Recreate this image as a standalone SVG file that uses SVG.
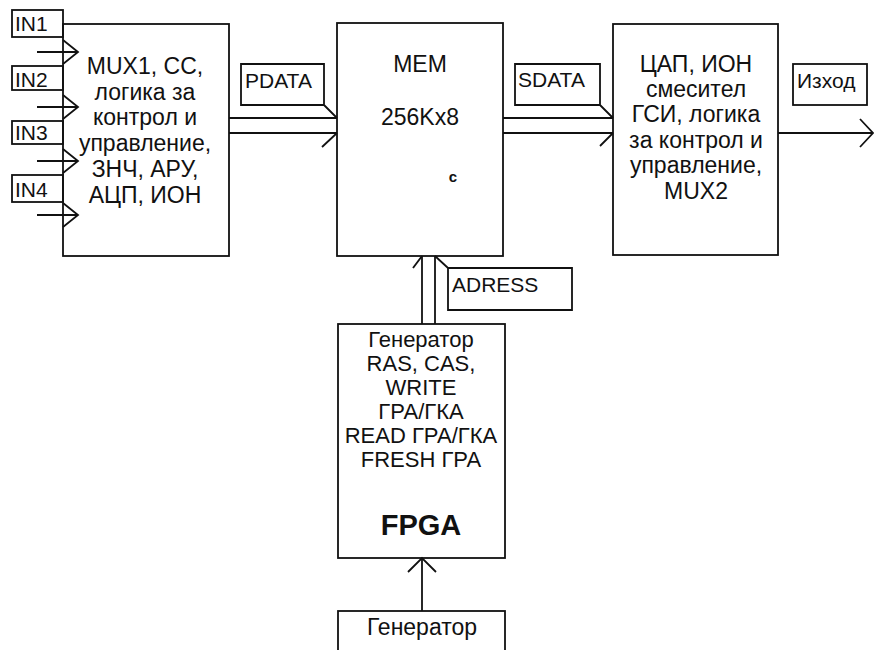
<svg xmlns="http://www.w3.org/2000/svg" width="874" height="650" viewBox="0 0 874 650">
<style>
.box{fill:none;stroke:#111;stroke-width:1.8}
.ln{fill:none;stroke:#111;stroke-width:1.8}
.t{font-family:"Liberation Sans",Arial,sans-serif;font-size:23px;fill:#111;text-anchor:middle}
.f{font-family:"Liberation Sans",Arial,sans-serif;font-size:22px;fill:#111;text-anchor:middle}
.l{font-family:"Liberation Sans",Arial,sans-serif;font-size:21px;fill:#111}
</style>
<rect width="874" height="650" fill="#fff"/>

<g id="connectors">
<line class="ln" x1="37" y1="52" x2="78" y2="52"/>
<polyline class="ln" points="63,40 78,52 63,64"/>
<line class="ln" x1="37" y1="107" x2="78" y2="107"/>
<polyline class="ln" points="63,95 78,107 63,119"/>
<line class="ln" x1="37" y1="161" x2="78" y2="161"/>
<polyline class="ln" points="63,149 78,161 63,173"/>
<line class="ln" x1="37" y1="215" x2="78" y2="215"/>
<polyline class="ln" points="63,203 78,215 63,227"/>
<line class="ln" x1="229" y1="118" x2="337" y2="118"/>
<line class="ln" x1="229" y1="133" x2="337" y2="133"/>
<line class="ln" x1="322" y1="147" x2="337" y2="133"/>
<line class="ln" x1="503" y1="118" x2="613" y2="118"/>
<line class="ln" x1="503" y1="133" x2="613" y2="133"/>
<line class="ln" x1="600" y1="146" x2="613" y2="133"/>
<line class="ln" x1="778" y1="133" x2="873" y2="133"/>
<polyline class="ln" points="860,119 873,133 860,147"/>
<line class="ln" x1="422" y1="256" x2="422" y2="324"/>
<line class="ln" x1="435" y1="256" x2="435" y2="324"/>
<line class="ln" x1="413" y1="268" x2="422" y2="256"/>
<line class="ln" x1="422" y1="611" x2="422" y2="558"/>
<polyline class="ln" points="408,572 422,558 436,572"/>
</g>

<g id="in1"><rect class="box" x="12" y="10" width="51" height="27"/><text class="l" x="15" y="31">IN1</text></g>
<g id="in2"><rect class="box" x="12" y="66" width="51" height="24"/><text class="l" x="15" y="87">IN2</text></g>
<g id="in3"><rect class="box" x="12" y="121" width="51" height="23"/><text class="l" x="15" y="140">IN3</text></g>
<g id="in4"><rect class="box" x="12" y="175" width="51" height="27"/><text class="l" x="15" y="197">IN4</text></g>

<g id="mux1">
<rect class="box" x="63" y="24" width="166" height="232"/>
<text class="t" x="145" y="74">MUX1, CC,</text>
<text class="t" x="145" y="100">логика за</text>
<text class="t" x="145" y="125">контрол и</text>
<text class="t" x="145" y="151">управление,</text>
<text class="t" x="145" y="177">ЗНЧ, АРУ,</text>
<text class="t" x="145" y="203">АЦП, ИОН</text>
</g>

<g id="pdata">
<path class="ln" d="M241,105 L241,64 L324,64 L324,105 Z M324,105 L337,118"/>
<text class="l" x="245" y="88">PDATA</text>
</g>

<g id="mem">
<rect class="box" x="337" y="23" width="166" height="233"/>
<text class="t" x="420" y="72">MEM</text>
<text class="t" x="420" y="125">256Kx8</text>
<text class="t" x="453" y="182" style="font-size:15px;font-weight:bold">c</text>
</g>

<g id="sdata">
<path class="ln" d="M515,105 L515,64 L600,64 L600,105 Z M600,105 L613,118"/>
<text class="l" x="518" y="87">SDATA</text>
</g>

<g id="dac">
<rect class="box" x="613" y="24" width="165" height="231"/>
<text class="t" x="696" y="72">ЦАП, ИОН</text>
<text class="t" x="696" y="97">смесител</text>
<text class="t" x="696" y="122">ГСИ, логика</text>
<text class="t" x="696" y="148">за контрол и</text>
<text class="t" x="696" y="173">управление,</text>
<text class="t" x="696" y="199">MUX2</text>
</g>

<g id="izhod">
<rect class="box" x="793" y="64" width="74" height="41"/>
<text class="l" x="797" y="88">Изход</text>
</g>

<g id="adress">
<path class="ln" d="M448,268 L572,268 L572,310 L448,310 Z M448,268 L435,256"/>
<text class="l" x="452" y="292">ADRESS</text>
</g>

<g id="fpga">
<rect class="box" x="338" y="324" width="167" height="234"/>
<text class="f" x="421" y="347">Генератор</text>
<text class="f" x="421" y="371">RAS, CAS,</text>
<text class="f" x="421" y="395">WRITE</text>
<text class="f" x="421" y="419">ГРА/ГКА</text>
<text class="f" x="421" y="443">READ ГРА/ГКА</text>
<text class="f" x="421" y="467">FRESH ГРА</text>
<text class="t" x="421" y="535" style="font-size:29px;font-weight:bold">FPGA</text>
</g>

<g id="generator">
<rect class="box" x="338" y="611" width="167" height="60"/>
<text class="t" x="422" y="635">Генератор</text>
</g>
</svg>
